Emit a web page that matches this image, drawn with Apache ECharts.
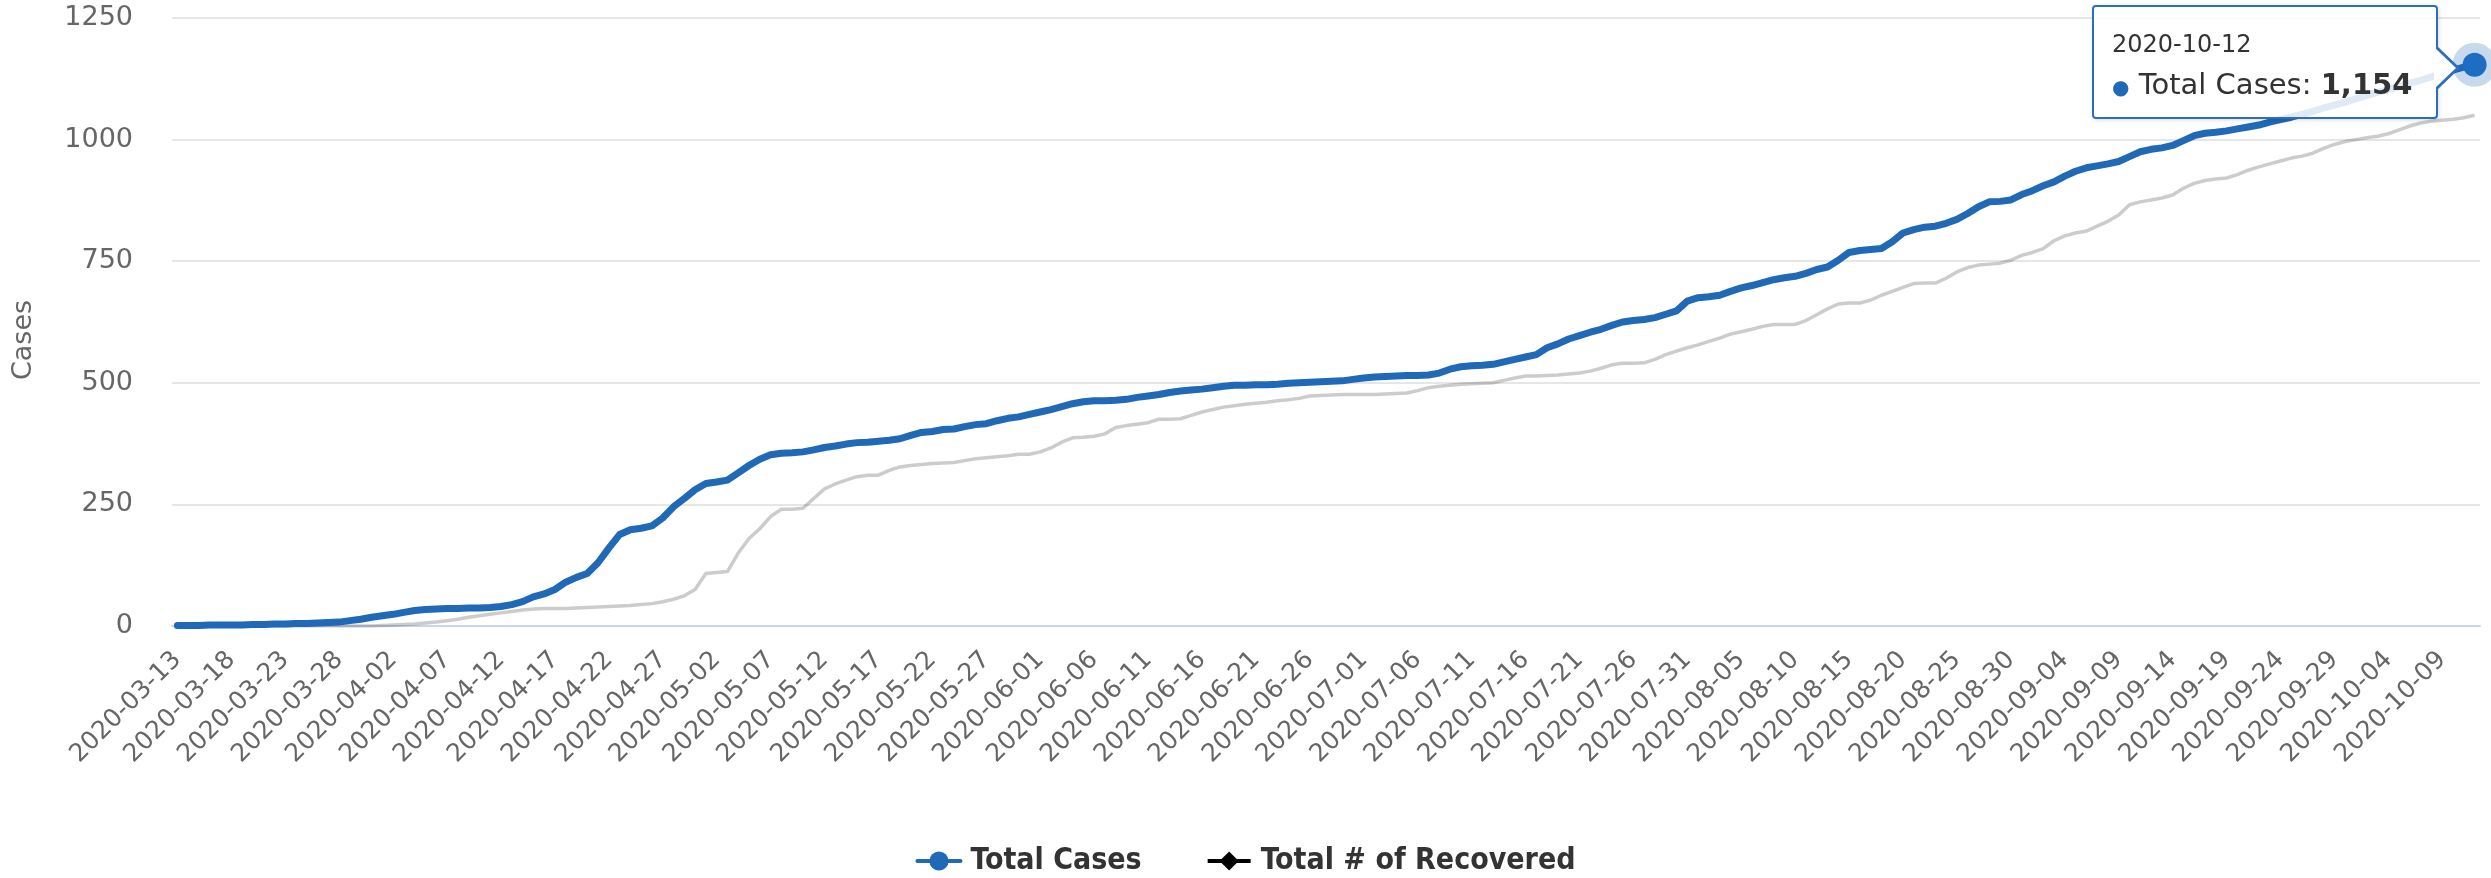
<!DOCTYPE html>
<html>
<head>
<meta charset="utf-8">
<title>Total Cases</title>
<script src="https://cdn.jsdelivr.net/npm/echarts@6/dist/echarts.min.js"></script>
<style>
  html, body { margin: 0; padding: 0; background: #fff; }
  #chart { width: 2491px; height: 878px; }
</style>
</head>
<body>
<div id="chart"></div>
<script>
// one category per day, 2020-03-13 .. 2020-10-12
const firstDay = Date.UTC(2020, 2, 13);
const dayCount = 214;
const dates = [];
for (let i = 0; i < dayCount; i++) {
  dates.push(new Date(firstDay + i * 86400000).toISOString().slice(0, 10));
}

const totalCases = [
  1, 1, 1, 2, 2, 2, 2, 3, 3, 4,
  4, 5, 5, 6, 7, 8, 11, 14, 18, 21,
  24, 28, 32, 34, 35, 36, 36, 37, 37, 38,
  40, 44, 50, 60, 66, 75, 90, 100, 108, 130,
  160, 188, 198, 201, 206, 222, 245, 262, 280, 293,
  296, 300, 315, 330, 343, 352, 355, 356, 358, 362,
  367, 370, 374, 377, 378, 380, 382, 385, 392, 398,
  400, 404, 405, 410, 414, 416, 422, 427, 430, 435,
  440, 445, 451, 457, 461, 463, 463, 464, 466, 470,
  473, 476, 480, 483, 485, 487, 490, 493, 495, 495,
  496, 496, 497, 499, 500, 501, 502, 503, 504, 507,
  510, 512, 513, 514, 515, 515, 516, 520, 528, 533,
  535, 536, 538, 543, 548, 553, 558, 572, 580, 590,
  597, 604, 610, 618, 625, 628, 630, 634, 641, 648,
  668, 675, 677, 680, 688, 695, 700, 706, 712, 716,
  719, 725, 733, 738, 752, 768, 772, 774, 776, 790,
  808, 815, 820, 822, 828, 836, 848, 862, 872, 873,
  876, 887, 895, 905, 913, 925, 935, 942, 946, 950,
  955, 965, 975, 980, 983, 988, 998, 1008, 1013, 1015,
  1018, 1022, 1026, 1030, 1036, 1041, 1046, 1052, 1058, 1065,
  1071, 1077, 1084, 1091, 1097, 1103, 1109, 1116, 1122, 1129,
  1136, 1143, 1149, 1154
];

const totalRecovered = [
  0, 0, 0, 0, 0, 0, 0, 0, 0, 0,
  0, 0, 0, 0, 0, 0, 0, 0, 0, 1,
  2, 3, 4, 6, 8, 11, 14, 18, 21, 24,
  27, 30, 33, 35, 36, 36, 36, 37, 38, 39,
  40, 41, 42, 44, 46, 50, 55, 62, 75, 108,
  110, 112, 150, 180, 200, 225, 240, 240, 242, 262,
  282, 292, 300, 307, 310, 310, 320, 327, 330, 332,
  334, 335, 336, 340, 344, 346, 348, 350, 353, 353,
  358, 366, 378, 387, 388, 390, 395, 408, 412, 415,
  418, 425, 425, 426, 433, 440, 445, 450, 453, 456,
  458, 460, 463, 465, 468, 473, 474, 475, 476, 476,
  476, 476, 477, 478, 479, 484, 490, 493, 495, 497,
  498, 499, 500, 505, 510, 514, 514, 515, 516, 518,
  520, 524, 530, 537, 540, 540, 541, 548, 558, 565,
  572, 578, 585, 592, 600, 605, 610, 616, 620, 620,
  620, 628, 640, 652, 662, 664, 664, 670, 680, 688,
  696, 704, 705, 705, 715, 728, 737, 742, 744, 746,
  752, 762, 768, 776, 792, 802, 808, 812, 822, 832,
  845, 866, 872, 876, 880, 886, 900, 910, 916, 919,
  921, 928, 937, 944, 950, 956, 962, 966, 972, 982,
  990, 996, 1000, 1004, 1007, 1012, 1020, 1028, 1034, 1038,
  1040, 1042, 1045, 1050
];

const yTicks = [0, 250, 500, 750, 1000, 1250];

const blue = '#1f69b6';
const tipBorder = '#2a6ebd';
const lastIdx = totalCases.length - 1;

const chart = echarts.init(document.getElementById('chart'));

chart.setOption({
  animation: false,
  textStyle: { fontFamily: 'DejaVu Sans' },
  grid: { left: 172, right: 11, top: 18, bottom: 252, outerBoundsMode: 'none' },
  tooltip: {
    trigger: 'item',
    triggerOn: 'none',
    alwaysShowContent: true,
    transitionDuration: 0,
    backgroundColor: 'rgba(255,255,255,0.86)',
    borderColor: tipBorder,
    borderWidth: 2,
    padding: [16, 18, 16, 18],
    extraCssText: 'box-sizing:border-box;width:346px;height:114px;border-radius:4px;box-shadow:1px 1px 4px rgba(0,0,0,0.15);overflow:visible;',
    textStyle: { fontFamily: 'DejaVu Sans', color: '#333' },
    position: function (point, params, dom, rect, size) {
      return [point[0] - 37 - size.contentSize[0], point[1] - 3 - size.contentSize[1] / 2];
    },
    formatter: function (p) {
      return '<div style="font-size:24px;line-height:42px;">' + p.name + '</div>' +
        '<div style="font-size:29px;line-height:38px;white-space:nowrap;">' +
        '<span style="color:' + blue + ';font-size:20px;">\u25CF</span> ' + p.seriesName +
        ': <b>' + p.value.toLocaleString('en-US') + '</b></div>' +
        '<div style="position:absolute;left:100%;top:38px;width:0;height:0;border-left:24px solid ' + tipBorder +
        ';border-top:23px solid transparent;border-bottom:23px solid transparent;"></div>' +
        '<div style="position:absolute;left:calc(100% - 2px);top:40px;width:0;height:0;border-left:22px solid #fff;' +
        'border-top:21px solid transparent;border-bottom:21px solid transparent;"></div>';
    }
  },
  legend: {
    top: 841,
    left: 'center',
    itemWidth: 43,
    itemHeight: 24,
    itemGap: 64,
    lineStyle: { width: 4, opacity: 1 },
    textStyle: {
      fontFamily: 'DejaVu Sans Condensed, DejaVu Sans',
      fontWeight: 'bold',
      fontSize: 30,
      color: '#333',
      padding: [0, 0, 0, 5]
    },
    data: ['Total Cases', 'Total # of Recovered']
  },
  xAxis: {
    type: 'category',
    data: dates,
    boundaryGap: true,
    axisLine: { lineStyle: { color: '#ccd6eb', width: 2 } },
    axisTick: { show: false },
    splitLine: { show: false },
    axisLabel: { interval: 4, rotate: 45, margin: 30, fontSize: 25, color: '#666' }
  },
  yAxis: {
    type: 'value',
    min: yTicks[0],
    max: yTicks[yTicks.length - 1],
    interval: yTicks[1] - yTicks[0],
    name: 'Cases',
    nameLocation: 'middle',
    nameRotate: 90,
    nameGap: 135,
    nameTextStyle: { fontSize: 27, color: '#666', padding: [0, 36, 0, 0] },
    axisLine: { show: false },
    axisTick: { show: false },
    axisLabel: {
      fontSize: 27,
      color: '#666',
      margin: 39,
      padding: [14, 0, 0, 0],
      formatter: function (v) { return String(v); }
    },
    splitLine: { lineStyle: { color: '#e6e6e6', width: 2 } }
  },
  series: [
    {
      name: 'Total Cases',
      type: 'line',
      z: 3,
      symbol: 'circle',
      showSymbol: true,
      showAllSymbol: true,
      itemStyle: { color: blue },
      lineStyle: { color: blue, width: 7, join: 'round', cap: 'round' },
      emphasis: { disabled: true },
      data: totalCases.map(function (v, i) {
        if (i === lastIdx) {
          return {
            value: v,
            symbol: 'circle',
            symbolSize: 24,
            itemStyle: { color: '#1d6fc6', borderColor: 'rgba(31,105,182,0.25)', borderWidth: 20 }
          };
        }
        return { value: v, symbol: 'none' };
      })
    },
    {
      name: 'Total # of Recovered',
      type: 'line',
      z: 2,
      symbol: 'diamond',
      showSymbol: false,
      itemStyle: { color: '#000' },
      lineStyle: { color: '#000', opacity: 0.2, width: 3.5, join: 'round' },
      emphasis: { disabled: true },
      data: totalRecovered
    }
  ]
});

chart.dispatchAction({ type: 'showTip', seriesIndex: 0, dataIndex: lastIdx });
</script>
</body>
</html>
